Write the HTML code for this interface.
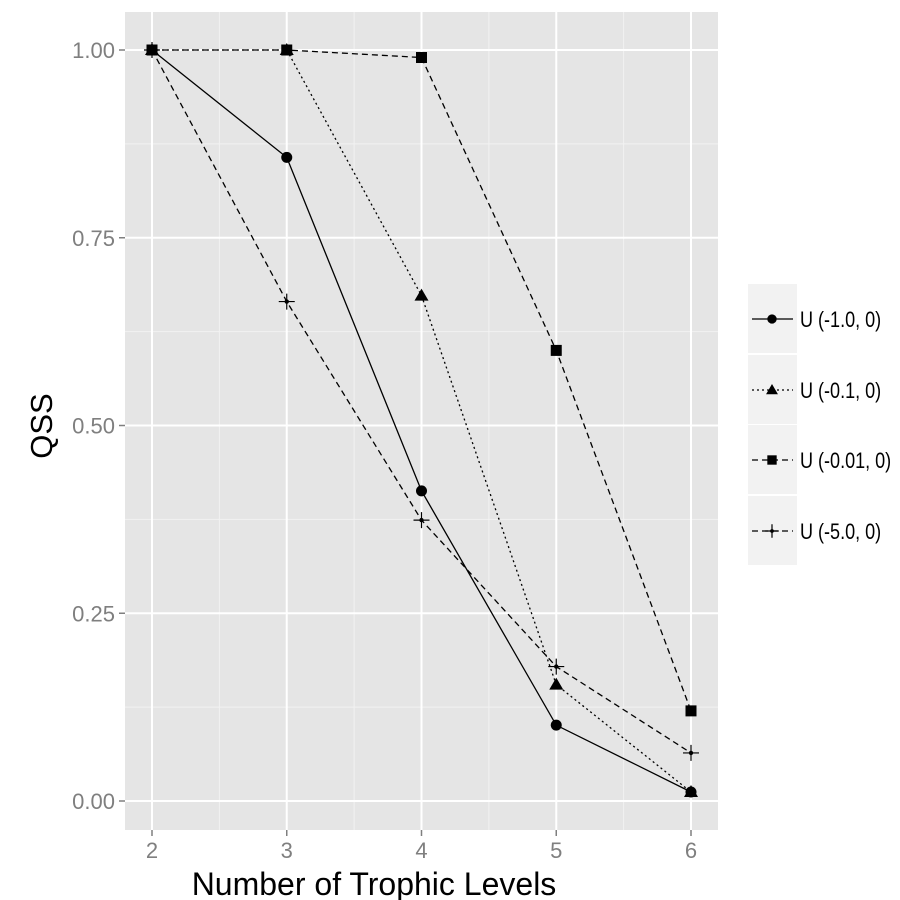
<!DOCTYPE html>
<html><head><meta charset="utf-8">
<style>
body{margin:0;background:#fff;}
svg{display:block;font-family:"Liberation Sans",sans-serif;}
</style></head>
<body>
<svg id="chart" width="900" height="900" viewBox="0 0 900 900">
<rect x="125" y="12" width="593" height="818" fill="#e5e5e5"/>
<g id="grid"></g>
<g id="series"></g>
<g id="axes"></g>
<text x="374" y="895" text-anchor="middle" font-size="32" fill="#000">Number of Trophic Levels</text>
<text transform="translate(52,426) rotate(-90)" text-anchor="middle" font-size="31" fill="#000">QSS</text>
<g id="legend"></g>
</svg>
<script>
const categories = [2, 3, 4, 5, 6];
const seriesNames = ["U (-1.0, 0)", "U (-0.1, 0)", "U (-0.01, 0)", "U (-5.0, 0)"];
const circleVals = [1.0, 0.857, 0.413, 0.101, 0.012];
const triangleVals = [1.0, 1.0, 0.673, 0.155, 0.012];
const squareVals = [1.0, 1.0, 0.99, 0.60, 0.12];
const plusVals = [1.0, 0.665, 0.374, 0.179, 0.064];
const yTicks = [0, 0.25, 0.5, 0.75, 1.0];
const yTickLabels = ["0.00", "0.25", "0.50", "0.75", "1.00"];

const NS = "http://www.w3.org/2000/svg";
function xs(v){ return 152 + (v - 2) * (691 - 152) / 4; }
function ys(v){ return 801 - v * (801 - 50); }
function mk(tag, attrs, parent){
  const e = document.createElementNS(NS, tag);
  for (const k in attrs) e.setAttribute(k, attrs[k]);
  parent.appendChild(e); return e;
}
const grid = document.getElementById('grid');
const axes = document.getElementById('axes');
for (let i = 0; i < yTicks.length - 1; i++) {
  const g = mk('line', {x1:125, x2:718, y1:ys((yTicks[i]+yTicks[i+1])/2), y2:ys((yTicks[i]+yTicks[i+1])/2), stroke:'#f2f2f2', 'stroke-width':1}, grid);
  
  
}
for (let i = 0; i < categories.length - 1; i++) {
  const m = (categories[i] + categories[i+1]) / 2;
  const g = mk('line', {x1:xs(m), x2:xs(m), y1:12, y2:830, stroke:'#f2f2f2', 'stroke-width':1}, grid);
  
  
}
yTicks.forEach((t, i) => {
  const g = mk('line', {x1:125, x2:718, y1:ys(t), y2:ys(t), stroke:'#fff', 'stroke-width':2}, grid);
  
  
  const tk = mk('line', {x1:119, x2:125, y1:ys(t), y2:ys(t), stroke:'#7f7f7f', 'stroke-width':1.5}, axes);
  
  
  const tx = mk('text', {x:115, y:ys(t)+8, 'text-anchor':'end', 'font-size':22, fill:'#7f7f7f'}, axes);
  tx.textContent = yTickLabels[i];
  
  
});
categories.forEach(c => {
  const g = mk('line', {x1:xs(c), x2:xs(c), y1:12, y2:830, stroke:'#fff', 'stroke-width':2}, grid);
  
  
  const tk = mk('line', {x1:xs(c), x2:xs(c), y1:830, y2:836, stroke:'#7f7f7f', 'stroke-width':1.5}, axes);
  
  
  const tx = mk('text', {x:xs(c), y:858, 'text-anchor':'middle', 'font-size':22, fill:'#7f7f7f'}, axes);
  tx.textContent = String(c);
  
  
});

function marker(type, x, y, parent, s){
  s = s || 1;
  let e;
  if (type === 'circle') e = mk('circle', {cx:x, cy:y, r:5.5*s, fill:'#000'}, parent);
  else if (type === 'triangle') e = mk('polygon', {points:`${x},${y-7*s} ${x-7*s},${y+5*s} ${x+7*s},${y+5*s}`, fill:'#000'}, parent);
  else if (type === 'square') e = mk('rect', {x:x-5.5*s, y:y-5.5*s, width:11*s, height:11*s, fill:'#000'}, parent);
  else {
    e = mk('path', {d:`M${x-8*s},${y}H${x+8*s}M${x},${y-8*s}V${y+8*s}`, stroke:'#000', 'stroke-width':1.2, fill:'none'}, parent);
    mk('circle', {cx:x, cy:y, r:2.2*s, fill:'#000'}, parent);
  }
  return e;
}
const defs = [
  {vals: circleVals, type:'circle', dash:'', name:'circle'},
  {vals: triangleVals, type:'triangle', dash:'2,3', name:'triangle'},
  {vals: squareVals, type:'square', dash:'6,4', name:'square'},
  {vals: plusVals, type:'plus', dash:'6,4', name:'plus'}
];
const series = document.getElementById('series');
defs.forEach(d => {
  const pts = categories.map((c, i) => xs(c) + ',' + ys(d.vals[i])).join(' ');
  const pl = mk('polyline', {points:pts, fill:'none', stroke:'#000', 'stroke-width':1.3, 'stroke-dasharray':d.dash}, series);
  
  
  categories.forEach((c, i) => {
    const m = marker(d.type, xs(c), ys(d.vals[i]), series);
    
    
  });
});

const legend = document.getElementById('legend');
const keyTops = [284, 355, 425, 496];
defs.forEach((d, i) => {
  const top = keyTops[i], cy = top + 35;
  const bg = mk('rect', {x:748, y:top, width:49, height:69, fill:'#f2f2f2'}, legend);
  
  
  mk('line', {x1:752, x2:793, y1:cy, y2:cy, stroke:'#000', 'stroke-width':1.3, 'stroke-dasharray':d.dash}, legend);
  marker(d.type, 772, cy, legend, 0.85);
  const t = mk('text', {x:800, y:cy+8, 'font-size':22, fill:'#000', transform:`translate(800,0) scale(0.82,1) translate(-800,0)`}, legend);
  t.textContent = seriesNames[i];
  
  
});
</script>
</body></html>
